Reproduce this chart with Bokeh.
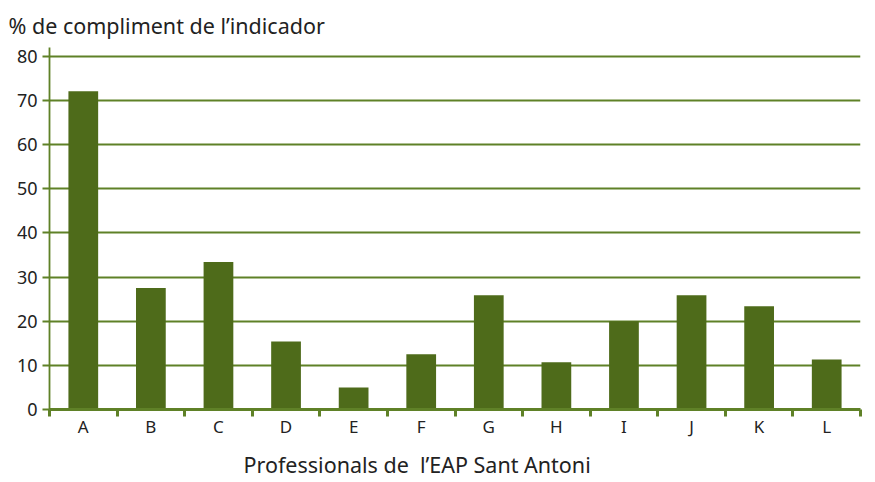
from bokeh.plotting import figure
from bokeh.models import FixedTicker, Range1d, Title, ColumnDataSource
from bokeh.embed import file_html
from bokeh.resources import INLINE

categories = ["A", "B", "C", "D", "E", "F", "G", "H", "I", "J", "K", "L"]
values = [72.1, 27.5, 33.4, 15.4, 5.0, 12.5, 25.9, 10.7, 20.0, 25.9, 23.4, 11.3]
y_ticks = [0, 10, 20, 30, 40, 50, 60, 70, 80]
title_text = "% de compliment de l\u2019indicador"
xlabel_text = "Professionals de \u00a0l\u2019EAP Sant Antoni"

BAR = "#4e6b1a"
GRID = "#5f8127"
FONT = "Noto Sans"
TXT = "#222222"

n = len(categories)
centers = [i + 0.5 for i in range(n)]
bounds = list(range(n + 1))

src = ColumnDataSource(dict(x=centers, top=values))

p = figure(frame_width=811, frame_height=362, output_backend="svg", toolbar_location=None,
           x_range=Range1d(0, n), y_range=Range1d(0, 82),
           min_border_left=49, min_border_right=7, min_border_top=47, min_border_bottom=4)
p.title = None
p.add_layout(Title(text=title_text, align="left", offset=-41, text_font=FONT,
                   text_font_size="21.5px", text_font_style="normal", text_color=TXT,
                   standoff=15), "above")
p.add_layout(Title(text=xlabel_text, align="left", offset=194, text_font=FONT,
                   text_font_size="21.5px", text_font_style="normal", text_color=TXT,
                   standoff=14), "below")

p.vbar(x="x", top="top", width=0.44, bottom=0, source=src, fill_color=BAR, line_color=None)

p.outline_line_color = None
p.xgrid.grid_line_color = None
p.ygrid.ticker = FixedTicker(ticks=y_ticks[1:])
p.ygrid.grid_line_color = GRID
p.ygrid.grid_line_width = 1.8

p.yaxis.ticker = FixedTicker(ticks=y_ticks)
p.yaxis.axis_line_color = GRID
p.yaxis.axis_line_width = 1.8
p.yaxis.major_tick_line_color = GRID
p.yaxis.major_tick_line_width = 1.8
p.yaxis.major_tick_out = 7
p.yaxis.major_tick_in = 0
p.yaxis.minor_tick_line_color = None
p.yaxis.major_label_standoff = 5
p.yaxis.major_label_text_font = FONT
p.yaxis.major_label_text_font_size = "18px"
p.yaxis.major_label_text_color = TXT

p.xaxis.ticker = FixedTicker(ticks=centers, minor_ticks=bounds)
p.xaxis.major_label_overrides = {c: lab for c, lab in zip(centers, categories)}
p.xaxis.axis_line_color = GRID
p.xaxis.axis_line_width = 3
p.xaxis.major_tick_line_color = None
p.xaxis.minor_tick_line_color = GRID
p.xaxis.minor_tick_line_width = 3
p.xaxis.minor_tick_out = 7
p.xaxis.minor_tick_in = 0
p.xaxis.major_label_standoff = -2
p.xaxis.major_label_text_font = FONT
p.xaxis.major_label_text_font_size = "17px"
p.xaxis.major_label_text_color = TXT

open("out.html", "w").write(file_html(p, INLINE))
